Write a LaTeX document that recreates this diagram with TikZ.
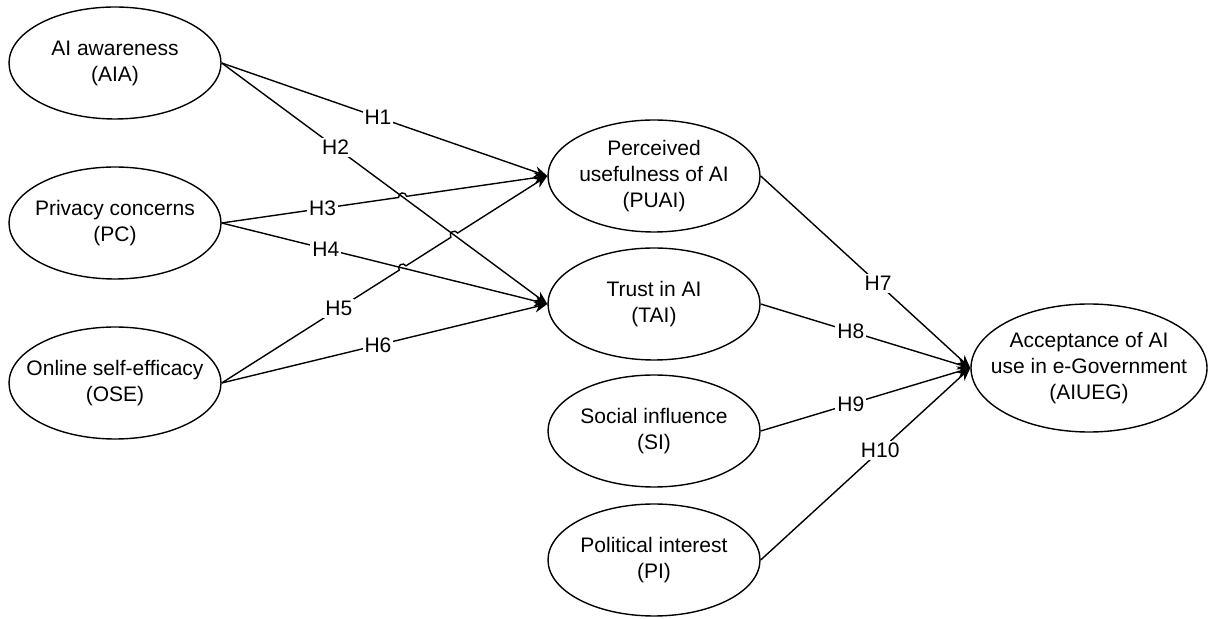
\documentclass[tikz,border=0pt]{standalone}
\usepackage{fontspec}
\setmainfont{Liberation Sans}
\usepackage{tikz}
\usetikzlibrary{arrows.meta, shapes.geometric, calc, intersections}

\begin{document}
\begin{tikzpicture}[
    x=0.5pt, y=-0.5pt,
    font=\fontsize{10.5}{13}\selectfont,
    var/.style={draw, ellipse, align=center, line width=0.7pt, inner xsep=-10pt,
                inner ysep=0pt, minimum width=106pt, minimum height=56pt},
    dep/.style={var, minimum width=118pt, minimum height=64pt},
    arr/.style={-{Stealth[length=6.5pt, width=5.5pt]}, line width=0.7pt},
    hyp/.style={fill=white, inner sep=1pt},
  ]
  \useasboundingbox (0,0) rectangle (1210,619);

  % antecedents (left column)
  \node[var] (aia) at (115,63)  {AI awareness \\ (AIA)};
  \node[var] (pc)  at (115,223) {Privacy concerns \\ (PC)};
  \node[var] (ose) at (115,383) {Online self-efficacy \\ (OSE)};

  % mediators and direct predictors (middle column)
  \node[var] (puai) at (654,176) {Perceived \\ usefulness of AI \\ (PUAI)};
  \node[var] (tai)  at (654,304) {Trust in AI \\ (TAI)};
  \node[var] (si)   at (654,431) {Social influence \\ (SI)};
  \node[var] (pi)   at (654,560) {Political interest \\ (PI)};

  % outcome
  \node[dep] (aiueg) at (1089,368) {Acceptance of AI \\ use in e-Government \\ (AIUEG)};

  % crossing points that get a line hop
  \path[name path=l2] (aia.east) -- (tai.west);
  \path[name path=l3] (pc.east) -- (puai.west);
  \path[name path=l4] (pc.east) -- (tai.west);
  \path[name path=l5] (ose.east) -- (puai.west);
  \path[name intersections={of=l2 and l3, by=x23}];
  \path[name intersections={of=l2 and l5, by=x25}];
  \path[name intersections={of=l4 and l5, by=x45}];

  % straight paths
  \draw[arr] (aia.east) -- node[hyp,pos=0.48]{H1} (puai.west);
  \draw[arr] (aia.east) -- node[hyp,pos=0.35]{H2} (tai.west);
  \draw[arr] (pc.east)  -- node[hyp,pos=0.32]{H4} (tai.west);
  \draw[arr] (ose.east) -- node[hyp,pos=0.48]{H6} (tai.west);

  % H3 hops over H2
  \draw[arr] let \p1=($(puai.west)-(pc.east)$), \n1={atan2(\y1,\x1)} in
    (pc.east) -- ($(x23)!2pt!(pc.east)$) arc[start angle=\n1+180, end angle=\n1, radius=2pt]
    -- (puai.west);
  \path (pc.east) -- node[hyp,pos=0.31]{H3} (puai.west);

  % H5 hops over H4 and H2
  \draw[arr] let \p1=($(puai.west)-(ose.east)$), \n1={atan2(\y1,\x1)} in
    (ose.east) -- ($(x45)!2pt!(ose.east)$) arc[start angle=\n1+180, end angle=\n1, radius=2pt]
    -- ($(x25)!2pt!(ose.east)$) arc[start angle=\n1+180, end angle=\n1, radius=2pt]
    -- (puai.west);
  \path (ose.east) -- node[hyp,pos=0.36]{H5} (puai.west);

  % paths into the outcome
  \draw[arr] (puai.east) -- node[hyp,pos=0.56]{H7} (aiueg.west);
  \draw[arr] (tai.east)  -- node[hyp,pos=0.43]{H8} (aiueg.west);
  \draw[arr] (si.east)   -- node[hyp,pos=0.43]{H9} (aiueg.west);
  \draw[arr] (pi.east)   -- node[hyp,pos=0.57]{H10} (aiueg.west);

\end{tikzpicture}
\end{document}
